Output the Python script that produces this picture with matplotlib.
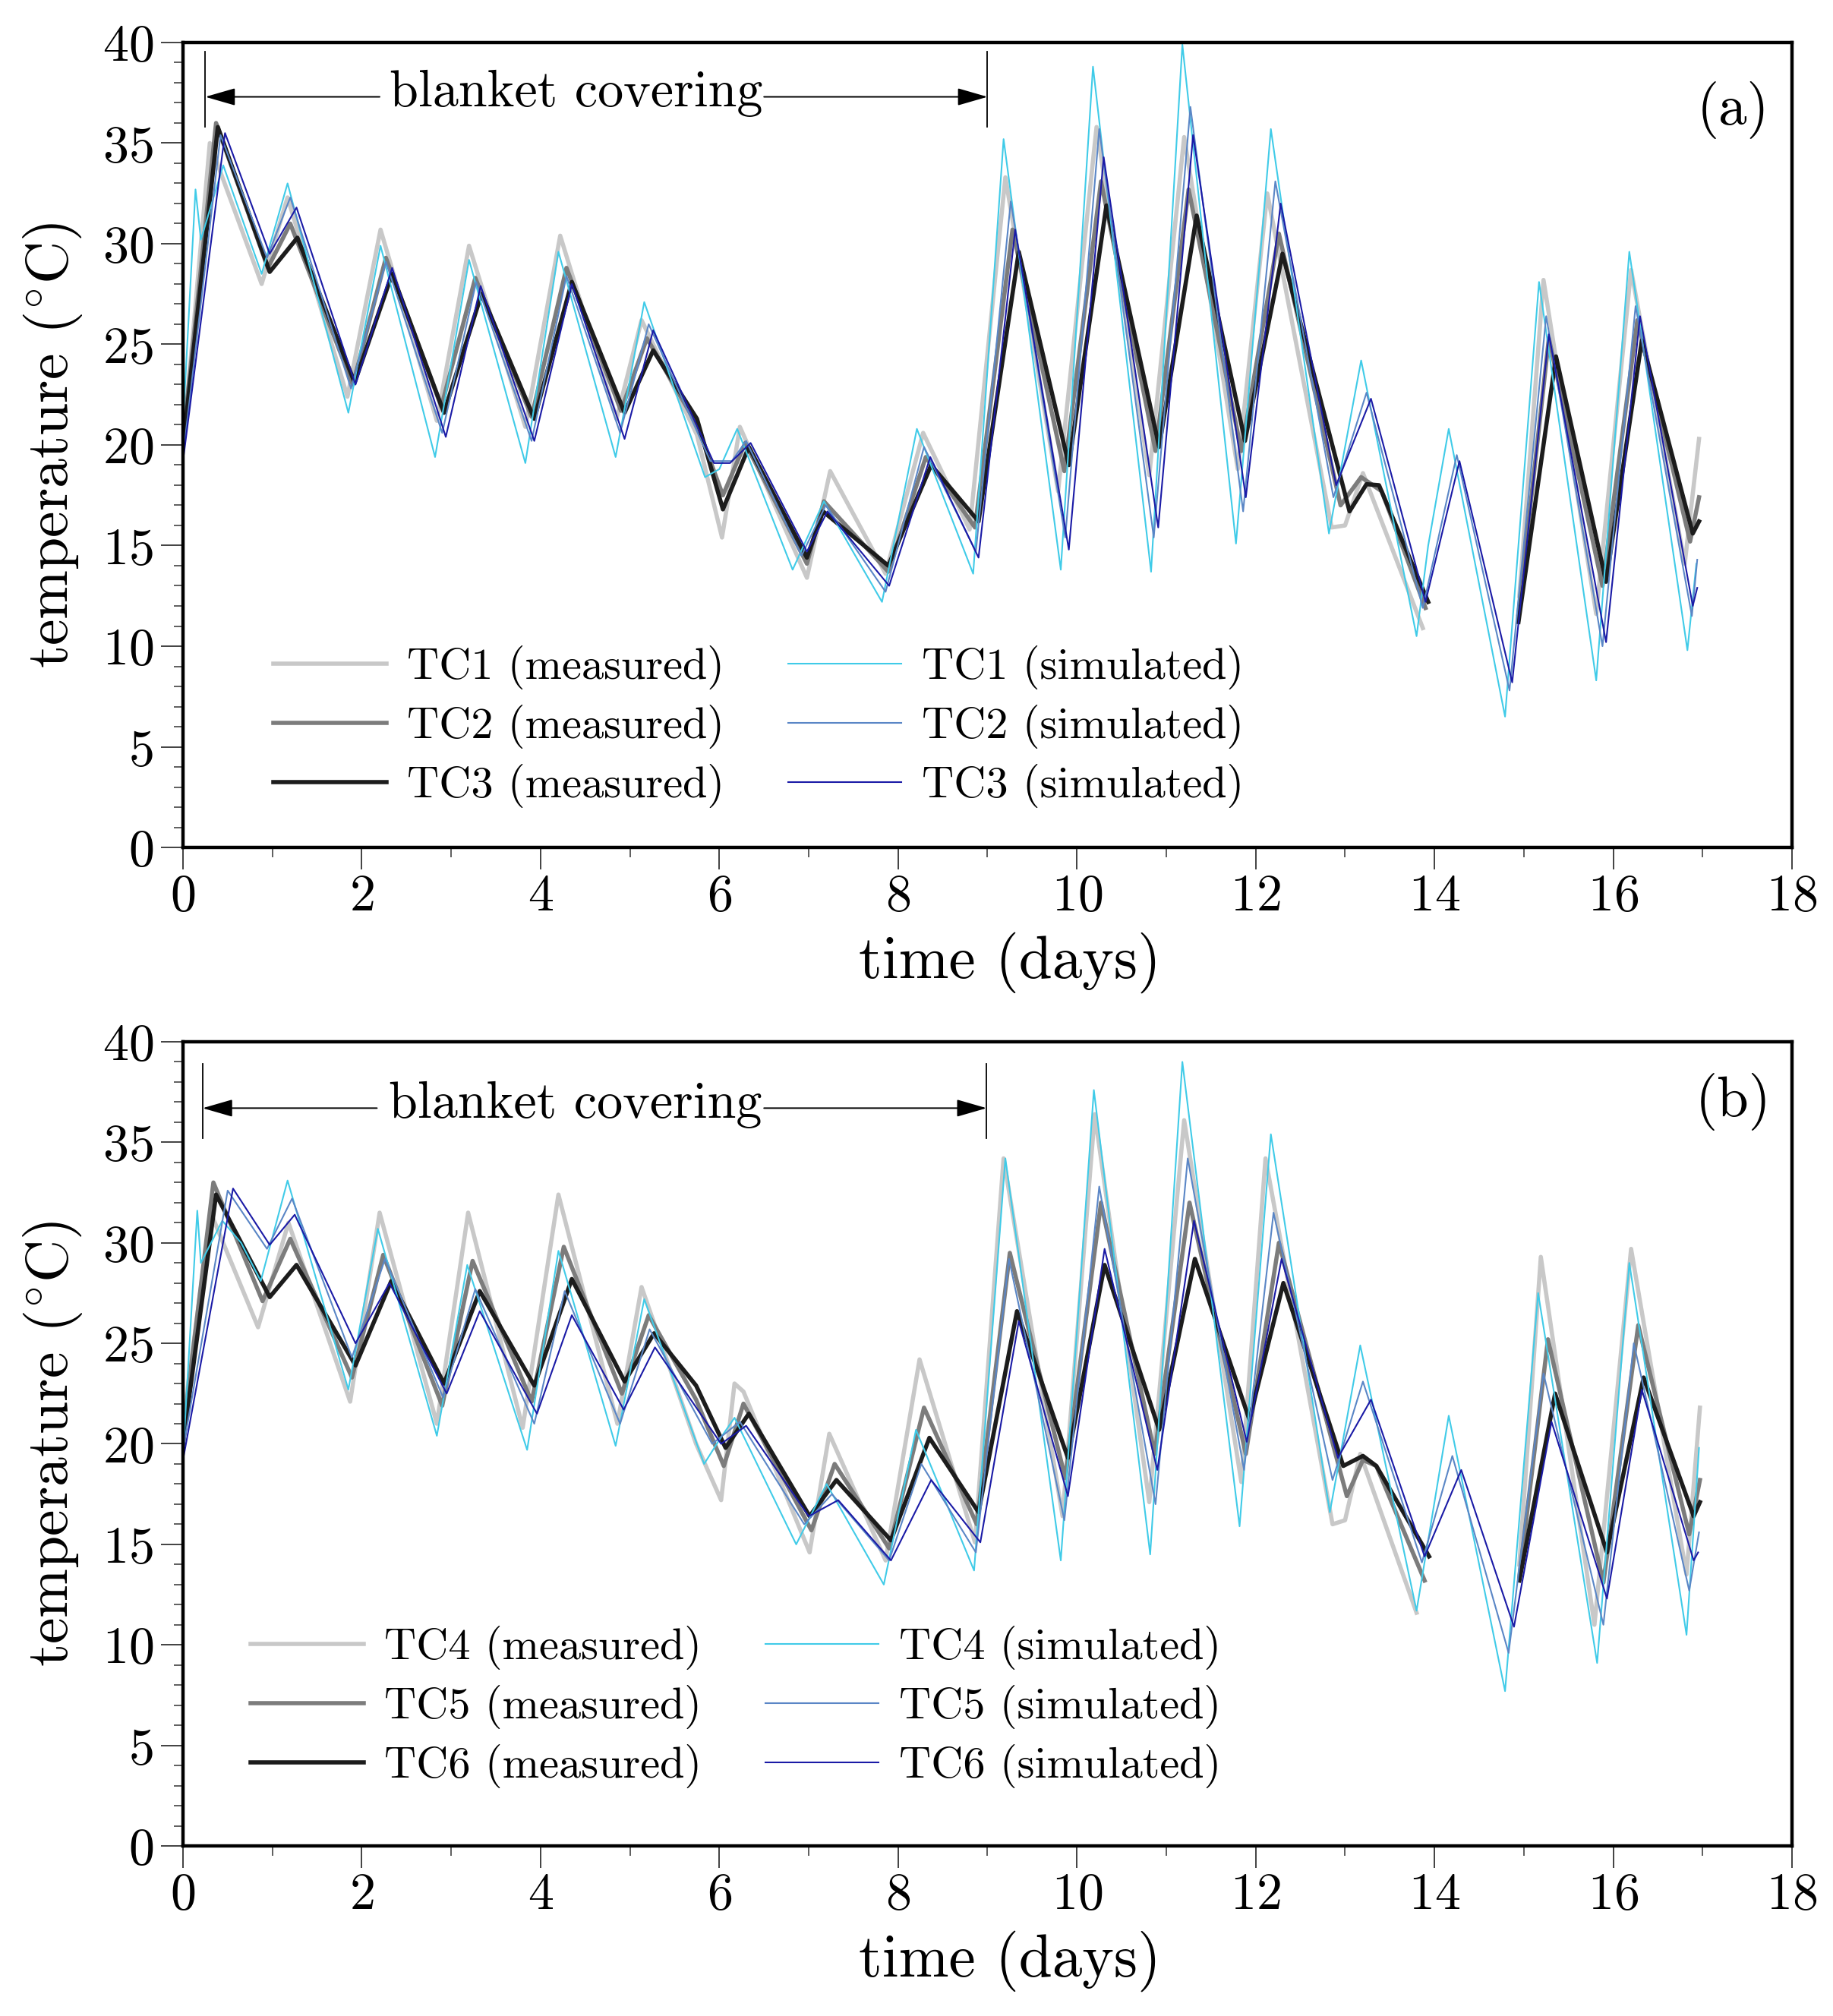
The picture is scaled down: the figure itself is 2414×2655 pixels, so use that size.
import numpy as np
import matplotlib.pyplot as plt
from matplotlib.ticker import MultipleLocator

plt.rcParams['font.family'] = ['cmr10', 'DejaVu Serif']
plt.rcParams['mathtext.fontset'] = 'cm'
plt.rcParams['axes.unicode_minus'] = False
plt.rcParams['axes.formatter.use_mathtext'] = True

nan = np.nan

# panel (a): TC1-TC3
a_tc1_meas_t = [0, 0.30, 0.88, 1.17, 1.84, 2.21, 2.84, 3.20, 3.83, 4.22, 4.85, 5.13, 5.75, 6.03, 6.23, 6.98, 7.24, 7.86,
                8.28, 8.80, 9.20, 9.79, 10.22, 10.81, 11.20, 11.80, 12.13, 12.85, 13.0, 13.20, 13.87, nan,
                14.95, 15.22, 15.81, 16.20, 16.80, 16.96]
a_tc1_meas_T = [19.9, 35.0, 28.0, 32.3, 22.4, 30.7, 21.2, 29.9, 20.9, 30.4, 21.3, 26.2, 20.5, 15.4, 20.9, 13.4, 18.7, 13.6,
                20.6, 15.8, 33.3, 17.7, 35.8, 18.5, 35.3, 18.8, 32.5, 15.9, 16.0, 18.6, 10.9, nan,
                12.5, 28.2, 11.6, 28.7, 14.1, 20.3]

a_tc2_meas_t = [0, 0.37, 0.95, 1.20, 1.90, 2.27, 2.89, 3.27, 3.90, 4.29, 4.90, 5.19, 5.75, 6.04, 6.29, 6.98, 7.17, 7.89,
                8.31, 8.86, 9.28, 9.86, 10.27, 10.88, 11.25, 11.84, 12.26, 12.95, 13.18, 13.41, 13.90, nan,
                14.94, 15.28, 15.88, 16.27, 16.86, 16.96]
a_tc2_meas_T = [20.2, 36.0, 28.8, 31.0, 23.0, 29.3, 21.9, 28.3, 21.4, 28.8, 21.7, 25.3, 21.0, 17.5, 20.1, 14.1, 17.2, 13.7,
                19.4, 15.9, 30.7, 18.7, 33.1, 19.7, 32.7, 19.7, 30.5, 17.0, 18.4, 17.7, 11.9, nan,
                11.6, 25.3, 13.0, 26.2, 15.2, 17.4]

a_tc3_meas_t = [0, 0.39, 0.97, 1.28, 1.92, 2.34, 2.92, 3.34, 3.93, 4.35, 4.94, 5.26, 5.75, 6.04, 6.33, 6.98, 7.16, 7.89,
                8.37, 8.90, 9.35, 9.91, 10.33, 10.92, 11.34, 11.88, 12.30, 13.05, 13.24, 13.38, 13.93, nan,
                14.94, 15.36, 15.92, 16.32, 16.89, 16.96]
a_tc3_meas_T = [19.9, 35.8, 28.6, 30.3, 23.1, 28.5, 21.6, 27.5, 21.3, 28.1, 21.6, 24.7, 21.3, 16.8, 19.9, 14.4, 16.7, 14.0,
                19.0, 16.2, 29.6, 19.0, 31.9, 19.9, 31.4, 20.2, 29.5, 16.7, 18.05, 18.0, 12.2, nan,
                11.2, 24.4, 13.2, 25.2, 15.6, 16.2]

a_tc1_sim_t = [0, 0.08, 0.14, 0.20, 0.45, 0.88, 1.17, 1.85, 2.21, 2.82, 3.20, 3.83, 4.20, 4.84, 5.16, 5.84, 6.00, 6.20,
               6.82, 7.17, 7.82, 8.21, 8.84, 9.18, 9.82, 10.18, 10.83, 11.18, 11.78, 12.17, 12.82, 13.18, 13.80,
               13.93, 14.16, 14.79, 15.17, 15.81, 16.18, 16.83, 16.93]
a_tc1_sim_T = [21.0, 27.7, 32.7, 30.2, 33.9, 28.5, 33.0, 21.6, 29.9, 19.4, 29.2, 19.1, 29.6, 19.4, 27.1, 18.4, 18.8, 20.8,
               13.8, 17.2, 12.2, 20.8, 13.6, 35.2, 13.8, 38.8, 13.7, 39.9, 15.1, 35.7, 15.6, 24.2, 10.5,
               15.0, 20.8, 6.5, 28.1, 8.3, 29.6, 9.8, 14.1]

a_tc2_sim_t = [0, 0.42, 0.94, 1.20, 1.88, 2.27, 2.90, 3.28, 3.90, 4.29, 4.89, 5.21, 5.90, 6.14, 6.30, 6.92, 7.19, 7.86,
               8.29, 8.87, 9.26, 9.87, 10.25, 10.86, 11.27, 11.86, 12.22, 12.87, 13.24, 13.87, 14.25, 14.84,
               15.25, 15.88, 16.25, 16.88, 16.94]
a_tc2_sim_T = [19.4, 35.4, 29.3, 32.3, 22.8, 29.1, 20.6, 28.1, 20.2, 28.4, 20.6, 26.0, 19.2, 19.2, 20.2, 14.5, 17.0, 12.7,
               19.9, 14.7, 32.1, 15.4, 35.7, 15.4, 36.8, 16.7, 33.1, 17.4, 22.6, 11.9, 19.5, 7.8,
               26.4, 10.0, 26.9, 11.5, 14.3]

a_tc3_sim_t = [0, 0.47, 0.97, 1.27, 1.93, 2.34, 2.94, 3.33, 3.93, 4.35, 4.94, 5.26, 5.94, 6.12, 6.35, 6.98, 7.21, 7.90,
               8.36, 8.90, 9.31, 9.91, 10.30, 10.91, 11.30, 11.89, 12.28, 12.90, 13.29, 13.90, 14.28, 14.87,
               15.28, 15.92, 16.30, 16.89, 16.94]
a_tc3_sim_T = [19.2, 35.5, 29.5, 31.8, 23.0, 28.8, 20.4, 27.9, 20.2, 28.0, 20.3, 25.7, 19.1, 19.1, 20.1, 14.7, 16.7, 13.0,
               19.4, 14.4, 30.7, 14.8, 34.3, 15.9, 35.4, 17.4, 32.0, 18.0, 22.3, 12.2, 19.2, 8.2,
               25.5, 10.2, 26.4, 12.0, 12.9]

# panel (b): TC4-TC6
b_tc4_meas_t = [0, 0.31, 0.84, 1.18, 1.87, 2.20, 2.84, 3.19, 3.80, 4.20, 4.86, 5.13, 5.74, 6.02, 6.17, 6.27, 7.01, 7.23,
                7.86, 8.24, 8.86, 9.18, 9.84, 10.20, 10.81, 11.20, 11.84, 12.11, 12.86, 13.0, 13.17, 13.80, nan,
                14.95, 15.19, 15.79, 16.20, 16.82, 16.97]
b_tc4_meas_T = [21.0, 31.5, 25.8, 31.0, 22.1, 31.5, 21.0, 31.5, 20.8, 32.4, 21.0, 27.8, 20.0, 17.2, 23.0, 22.6, 14.6, 20.5,
                14.2, 24.2, 15.1, 34.2, 16.4, 36.4, 17.1, 36.1, 18.1, 34.2, 16.0, 16.2, 19.5, 11.6, nan,
                14.0, 29.3, 11.0, 29.7, 13.5, 21.8]

b_tc5_meas_t = [0, 0.34, 0.89, 1.20, 1.89, 2.24, 2.90, 3.24, 3.90, 4.26, 4.91, 5.21, 5.74, 6.05, 6.27, 7.03, 7.29, 7.90,
                8.29, 8.88, 9.25, 9.87, 10.27, 10.87, 11.26, 11.89, 12.26, 13.02, 13.20, 13.35, 13.89, nan,
                14.95, 15.27, 15.89, 16.28, 16.85, 16.97]
b_tc5_meas_T = [20.5, 33.0, 27.1, 30.2, 23.3, 29.4, 21.9, 29.1, 22.1, 29.8, 22.5, 26.4, 22.2, 18.9, 22.0, 15.7, 19.0, 14.8,
                21.8, 16.0, 29.5, 18.3, 32.0, 19.5, 32.0, 19.5, 30.0, 17.4, 19.2, 18.9, 13.2, nan,
                13.4, 25.2, 13.1, 25.9, 15.5, 18.2]

b_tc6_meas_t = [0, 0.37, 0.97, 1.27, 1.93, 2.33, 2.92, 3.32, 3.93, 4.35, 4.94, 5.27, 5.74, 6.07, 6.33, 7.01, 7.31, 7.92,
                8.35, 8.90, 9.33, 9.90, 10.31, 10.92, 11.32, 11.93, 12.31, 12.98, 13.20, 13.35, 13.94, nan,
                14.95, 15.35, 15.93, 16.34, 16.90, 16.97]
b_tc6_meas_T = [20.0, 32.4, 27.3, 28.9, 23.9, 28.1, 23.0, 27.6, 22.9, 28.2, 23.1, 25.5, 22.9, 19.8, 21.5, 16.4, 18.2, 15.2,
                20.3, 16.6, 26.6, 19.3, 28.9, 20.7, 29.2, 21.2, 28.0, 18.9, 19.4, 18.9, 14.4, nan,
                13.2, 22.5, 14.6, 23.3, 16.4, 17.1]

b_tc4_sim_t = [0, 0.16, 0.20, 0.44, 0.65, 0.87, 1.17, 1.85, 2.18, 2.84, 3.18, 3.85, 4.20, 4.84, 5.16, 5.83, 6.00, 6.17,
               6.86, 7.20, 7.84, 8.20, 8.85, 9.20, 9.82, 10.19, 10.82, 11.18, 11.82, 12.17, 12.83, 13.17, 13.80,
               14.16, 14.79, 15.16, 15.82, 16.18, 16.82, 16.96]
b_tc4_sim_T = [19.4, 31.6, 29.0, 31.1, 30.0, 28.1, 33.1, 22.7, 30.7, 20.4, 28.9, 19.7, 29.6, 19.9, 27.2, 19.0, 20.2, 21.3,
               15.0, 18.0, 13.0, 20.7, 13.7, 34.2, 14.2, 37.6, 14.5, 39.0, 15.9, 35.4, 16.6, 24.9, 11.7,
               21.4, 7.7, 27.5, 9.1, 29.0, 10.5, 19.8]

b_tc5_sim_t = [0, 0.50, 0.94, 1.22, 1.89, 2.26, 2.91, 3.27, 3.93, 4.27, 4.89, 5.22, 5.92, 6.23, 6.95, 7.26, 7.90, 8.26,
               8.87, 9.24, 9.86, 10.25, 10.88, 11.24, 11.87, 12.20, 12.86, 13.20, 13.86, 14.20, 14.83, 15.22,
               15.89, 16.23, 16.85, 16.96]
b_tc5_sim_T = [19.7, 32.6, 29.7, 32.2, 24.3, 29.2, 22.3, 27.7, 21.0, 27.6, 21.0, 25.7, 20.0, 21.1, 16.0, 17.5, 14.2, 19.0,
               14.6, 29.2, 16.2, 32.8, 17.0, 34.2, 18.7, 31.5, 18.2, 23.1, 14.1, 19.4, 9.6, 23.5,
               11.0, 25.0, 12.7, 15.6]

b_tc6_sim_t = [0, 0.56, 0.97, 1.25, 1.93, 2.31, 2.95, 3.32, 3.96, 4.35, 4.93, 5.28, 6.02, 6.30, 7.00, 7.33, 7.92, 8.37,
               8.92, 9.35, 9.90, 10.31, 10.90, 11.31, 11.90, 12.29, 12.92, 13.29, 13.89, 14.30, 14.89, 15.31,
               15.93, 16.32, 16.90, 16.95]
b_tc6_sim_T = [19.2, 32.7, 29.9, 31.4, 25.0, 28.0, 22.5, 26.6, 21.5, 26.4, 21.7, 24.8, 20.0, 20.9, 16.4, 17.2, 14.2, 18.2,
               15.1, 26.1, 17.4, 29.7, 18.7, 31.1, 20.1, 29.2, 19.3, 22.2, 14.4, 18.7, 10.9, 21.1,
               12.3, 22.7, 14.2, 14.6]

meas_colors = ['#c8c8c8', '#7c7c7c', '#1c1c1c']
sim_colors = ['#40cbe8', '#5a86c6', '#1a1aa6']


def plot_panel(ax, meas, sim, names, letter, blanket, leg_anchor):
    for (t, T), c, n in zip(meas, meas_colors, names):
        ax.plot(t, T, color=c, lw=4.0, solid_joinstyle='round', label=n + ' (measured)')
    for (t, T), c, n in zip(sim, sim_colors, names):
        ax.plot(t, T, color=c, lw=1.5, solid_joinstyle='round', label=n + ' (simulated)')

    x0, x1, y_arrow, y_lo, y_hi, t_left, t_right = blanket
    ax.plot([x0, x0], [y_lo, y_hi], color='k', lw=1.3)
    ax.plot([x1, x1], [y_lo, y_hi], color='k', lw=1.3)
    arrow = dict(arrowstyle='-|>,head_length=0.45,head_width=0.13', color='k', lw=1.4,
                 shrinkA=0, shrinkB=0, mutation_scale=55)
    ax.annotate('', xy=(x0, y_arrow), xytext=(t_left, y_arrow), arrowprops=arrow)
    ax.annotate('', xy=(x1, y_arrow), xytext=(t_right, y_arrow), arrowprops=arrow)
    ax.text((t_left + t_right) / 2 + 0.05, y_arrow - 0.47, 'blanket covering', fontsize=49,
            ha='center', va='baseline')

    ax.text(0.9636, letter[1], letter[0], transform=ax.transAxes, fontsize=54,
            ha='center', va='center')

    ax.set_xlim(0, 18)
    ax.set_ylim(0, 40)
    ax.xaxis.set_major_locator(MultipleLocator(2))
    ax.xaxis.set_minor_locator(MultipleLocator(1))
    ax.yaxis.set_major_locator(MultipleLocator(5))
    ax.yaxis.set_minor_locator(MultipleLocator(1))
    ax.tick_params(which='both', direction='out', top=False, right=False, color='#333333')
    ax.tick_params(which='major', length=21, width=1.3, labelsize=49)
    ax.tick_params(axis='x', which='major', pad=4)
    ax.tick_params(axis='y', which='major', pad=7)
    ax.tick_params(which='minor', length=9, width=1.1)
    for s in ax.spines.values():
        s.set_linewidth(3.2)

    ax.set_xlabel('time (days)', fontsize=57)
    ax.set_ylabel(r'temperature ($^{\circ}$C)', fontsize=56)
    ax.xaxis.set_label_coords(0.514, -0.105)
    ax.yaxis.set_label_coords(-0.0613, 0.5)

    ax.legend(ncol=2, frameon=False, fontsize=42, loc='upper left', bbox_to_anchor=leg_anchor,
              borderaxespad=0, borderpad=0, handlelength=2.55, handletextpad=0.46,
              columnspacing=1.45, labelspacing=0.34)


fig = plt.figure(figsize=(24.14, 26.55), dpi=100)
ax_a = fig.add_axes([0.09983, 0.57966, 0.87780, 0.39925])
ax_b = fig.add_axes([0.09983, 0.08437, 0.87780, 0.39887])

plot_panel(ax_a,
           [(a_tc1_meas_t, a_tc1_meas_T), (a_tc2_meas_t, a_tc2_meas_T), (a_tc3_meas_t, a_tc3_meas_T)],
           [(a_tc1_sim_t, a_tc1_sim_T), (a_tc2_sim_t, a_tc2_sim_T), (a_tc3_sim_t, a_tc3_sim_T)],
           ['TC1', 'TC2', 'TC3'], ('(a)', 0.916),
           (0.25, 9.0, 37.3, 35.8, 39.55, 2.2, 6.5), (0.0562, 0.2507))
plot_panel(ax_b,
           [(b_tc4_meas_t, b_tc4_meas_T), (b_tc5_meas_t, b_tc5_meas_T), (b_tc6_meas_t, b_tc6_meas_T)],
           [(b_tc4_sim_t, b_tc4_sim_T), (b_tc5_sim_t, b_tc5_sim_T), (b_tc6_sim_t, b_tc6_sim_T)],
           ['TC4', 'TC5', 'TC6'], ('(b)', 0.925),
           (0.22, 8.99, 36.7, 35.2, 38.9, 2.17, 6.5), (0.042, 0.2736))

fig.savefig('out.png', dpi=100)
